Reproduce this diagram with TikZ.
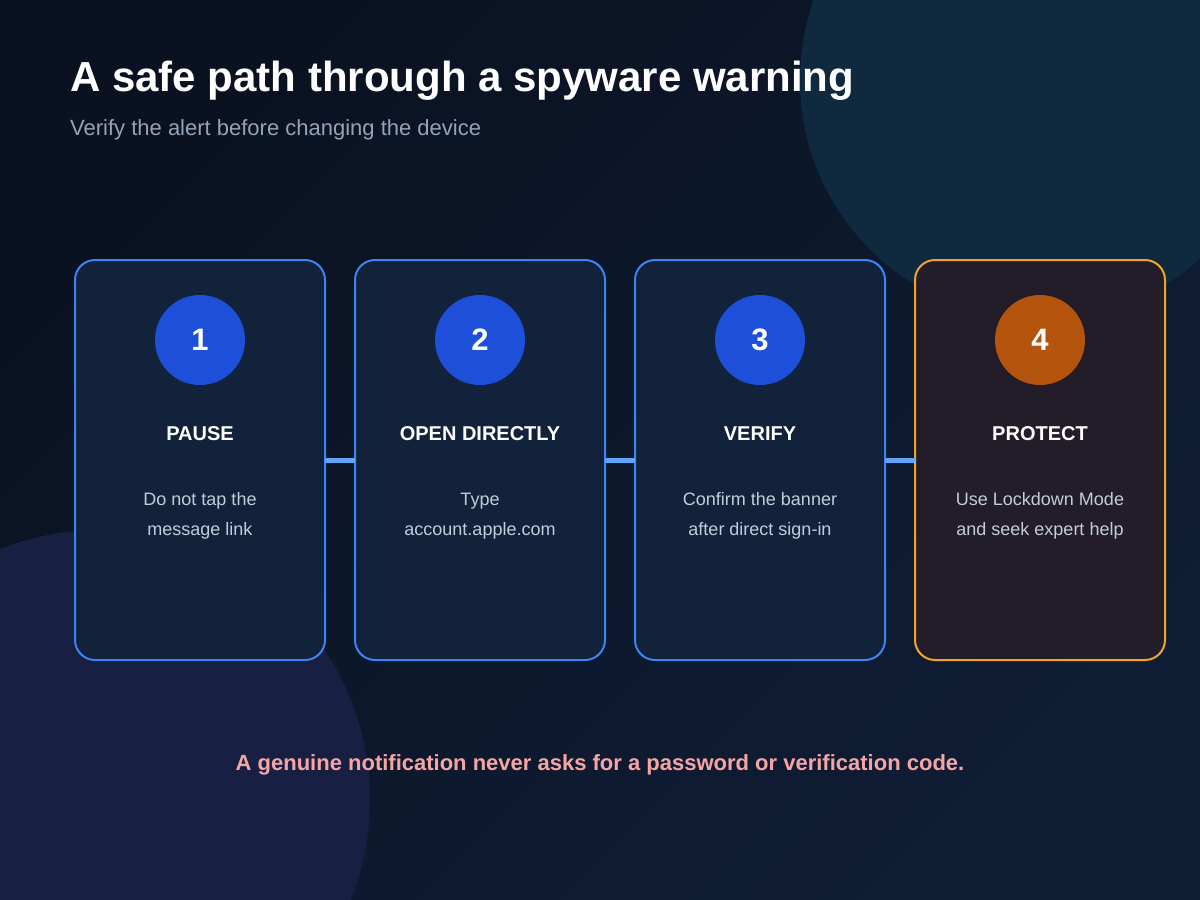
\documentclass[tikz,border=0pt]{standalone}
\usepackage{fontspec}
\setmainfont{Liberation Sans}
\setsansfont{Liberation Sans}
\usetikzlibrary{positioning,calc}
\definecolor{alrtInk}{HTML}{0A1221}
\definecolor{alrtDeep}{HTML}{0F1D35}
\definecolor{alrtTeal}{HTML}{0F2A3F}
\definecolor{alrtPlum}{HTML}{171F42}
\definecolor{alrtCardFill}{HTML}{12223B}
\definecolor{alrtWarmFill}{HTML}{231C29}
\definecolor{alrtBlue}{HTML}{3E84F0}
\definecolor{alrtRoyal}{HTML}{1D4FD8}
\definecolor{alrtSky}{HTML}{60A5FA}
\definecolor{alrtAmber}{HTML}{F0A52A}
\definecolor{alrtRust}{HTML}{B5540C}
\definecolor{alrtSlate}{HTML}{94A3B8}
\definecolor{alrtMist}{HTML}{C3CDDA}
\definecolor{alrtRose}{HTML}{F6A5A5}
\tikzset{
  alrtCard/.style={
    draw=alrtBlue,
    fill=alrtCardFill,
    line width=2pt,
    rounded corners=20pt,
    minimum width=250pt,
    minimum height=400pt,
    inner sep=0pt,
    outer sep=0pt
  },
  alrtWarm/.style={
    alrtCard,
    draw=alrtAmber,
    fill=alrtWarmFill
  },
  alrtBadge/.style={
    circle,
    fill=alrtRoyal,
    minimum size=90pt,
    inner sep=0pt,
    outer sep=0pt,
    text=white,
    font=\fontsize{31}{31}\selectfont\bfseries
  },
  alrtHead/.style={
    anchor=base,
    inner sep=0pt,
    text=white,
    font=\fontsize{20}{20}\selectfont\bfseries
  },
  alrtNote/.style={
    anchor=base,
    inner sep=0pt,
    align=center,
    text=alrtMist,
    font=\fontsize{18}{30}\selectfont
  },
  alrtLink/.style={draw=alrtSky, line width=5pt}
}

\begin{document}
\begin{tikzpicture}[x=1pt, y=-1pt, node distance=30pt]
  \useasboundingbox (0,0) rectangle (1200,900);
  % backdrop
  \begin{scope}
    \clip (0,0) rectangle (1200,900);
    \shade[top color=alrtInk, bottom color=alrtDeep, shading angle=45] (0,0) rectangle (1200,900);
    \fill[alrtTeal] (1040,80) circle[radius=240pt];
    \fill[alrtPlum] (100,800) circle[radius=270pt];
  \end{scope}

  \node[anchor=base west, inner sep=0pt, text=white, font=\fontsize{42}{42}\selectfont\bfseries] (title) at (70,91) {A safe path through a spyware warning};
  \node[anchor=base west, inner sep=0pt, text=alrtSlate, font=\fontsize{22}{22}\selectfont] (subtitle) at (70,135) {Verify the alert before changing the device};

  % the four steps
  \node[alrtCard] (pause) at (200,460) {};
  \node[alrtCard, right=of pause] (open) {};
  \node[alrtCard, right=of open] (verify) {};
  \node[alrtWarm, right=of verify] (protect) {};

  \draw[alrtLink] (pause.east) -- (open.west);
  \draw[alrtLink] (open.east) -- (verify.west);
  \draw[alrtLink] (verify.east) -- (protect.west);

  \node[alrtBadge, below=35pt of pause.north] (one) {1};
  \node[alrtBadge, below=35pt of open.north] (two) {2};
  \node[alrtBadge, below=35pt of verify.north] (three) {3};
  \node[alrtBadge, below=35pt of protect.north, fill=alrtRust] (four) {4};

  \node[alrtHead] (pauseHd) at ([yshift=-180pt]pause.north) {PAUSE};
  \node[alrtHead] (openHd) at ([yshift=-180pt]open.north) {OPEN DIRECTLY};
  \node[alrtHead] (verifyHd) at ([yshift=-180pt]verify.north) {VERIFY};
  \node[alrtHead] (protectHd) at ([yshift=-180pt]protect.north) {PROTECT};

  \node[alrtNote] (pauseTx) at ([yshift=-275pt]pause.north) {Do not tap the\\message link};
  \node[alrtNote] (openTx) at ([yshift=-275pt]open.north) {Type\\account.apple.com};
  \node[alrtNote] (verifyTx) at ([yshift=-275pt]verify.north) {Confirm the banner\\after direct sign-in};
  \node[alrtNote] (protectTx) at ([yshift=-275pt]protect.north) {Use Lockdown Mode\\and seek expert help};

  \node[anchor=base, inner sep=0pt, text=alrtRose, font=\fontsize{22}{22}\selectfont\bfseries] (tip) at (600,770) {A genuine notification never asks for a password or verification code.};
\end{tikzpicture}
\end{document}
